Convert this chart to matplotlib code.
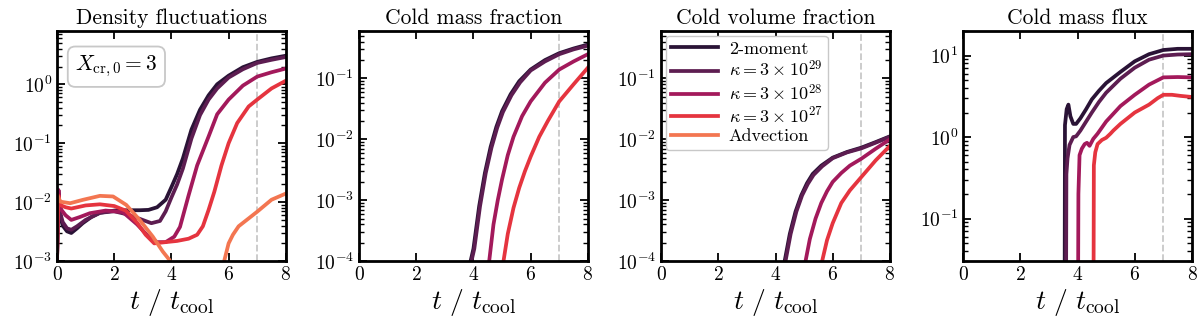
import matplotlib
matplotlib.use("Agg")
import matplotlib.pyplot as plt

plt.rcParams["font.family"] = "serif"
plt.rcParams["font.serif"] = ["cmr10", "DejaVu Serif"]
plt.rcParams["mathtext.fontset"] = "cm"
plt.rcParams["axes.formatter.use_mathtext"] = True
plt.rcParams["xtick.direction"] = "in"
plt.rcParams["ytick.direction"] = "in"
plt.rcParams["xtick.top"] = True
plt.rcParams["ytick.right"] = True

labels = ["2-moment", r"$\kappa = 3\times10^{29}$", r"$\kappa = 3\times10^{28}$",
          r"$\kappa = 3\times10^{27}$", "Advection"]
colors = ["#2a1336", "#5d1d51", "#a3195b", "#e5343f", "#f37651"]
titles = ["Density fluctuations", "Cold mass fraction", "Cold volume fraction", "Cold mass flux"]

# --- Density fluctuations (None = gap where the curve leaves the axes) ---
dens_t = [
    [0.0, 0.05, 0.1, 0.2, 0.35, 0.5, 0.7, 0.9, 1.2, 1.5, 2.0, 2.5, 2.9, 3.2, 3.5, 3.8, 4.0, 4.2, 4.4,
     4.7, 5.0, 5.3, 5.6, 6.0, 6.5, 7.0, 7.5, 8.0],
    [0.0, 0.05, 0.1, 0.2, 0.35, 0.5, 0.7, 1.0, 1.5, 2.0, 2.4, 2.9, 3.3, 3.6, 3.8, 4.0, 4.2, 4.4,
     4.7, 5.0, 5.3, 5.6, 6.0, 6.5, 7.0, 7.5, 8.0],
    [0.0, 0.05, 0.1, 0.3, 0.5, 0.8, 1.15, 1.7, 2.3, 2.8, 3.2, 3.5, 3.8, 4.1, 4.3, 4.6, 4.9, 5.3,
     5.6, 6.0, 6.5, 7.0, 7.5, 8.0],
    [0.0, 0.05, 0.1, 0.3, 0.5, 1.0, 1.5, 2.0, 2.4, 2.8, 3.1, 3.4, 3.8, 4.2, 4.6, 4.9, 5.1, 5.3, 5.5,
     5.75, 6.0, 6.3, 6.7, 7.0, 7.5, 8.0],
    [0.05, 0.12, 0.46, 0.92, 1.5, 1.96, 2.42, 2.89, 3.35, 3.7, 3.93, 4.0, None,
     5.82, 6.0, 6.15, 6.35, 6.7, 7.0, 7.5, 8.0],
]
dens_v = [
    [1e-3, 1.4e-2, 6e-3, 4e-3, 3.2e-3, 3.0e-3, 3.6e-3, 4.4e-3, 5.6e-3, 6.6e-3, 7.2e-3, 7.3e-3,
     7.3e-3, 7.4e-3, 8.2e-3, 1.1e-2, 1.8e-2, 3.0e-2, 5.5e-2, 0.17, 0.37, 0.65, 1.0, 1.4, 1.95,
     2.4, 2.75, 3.05],
    [1e-3, 1.6e-2, 7e-3, 4.6e-3, 3.6e-3, 3.4e-3, 3.9e-3, 5.0e-3, 6.6e-3, 7.0e-3, 6.3e-3, 5.2e-3,
     4.4e-3, 4.8e-3, 7e-3, 1.2e-2, 2.0e-2, 3.7e-2, 0.12, 0.3, 0.55, 0.85, 1.3, 1.8, 2.3, 2.6, 2.9],
    [1e-3, 1.6e-2, 8e-3, 6e-3, 5e-3, 5.6e-3, 6.5e-3, 7.2e-3, 6.8e-3, 4.2e-3, 2.6e-3, 2.1e-3,
     2.1e-3, 2.6e-3, 3.8e-3, 1.3e-2, 4.2e-2, 0.13, 0.31, 0.55, 0.95, 1.35, 1.6, 1.85],
    [1e-3, 1.3e-2, 9e-3, 8.2e-3, 7.8e-3, 8.8e-3, 9.2e-3, 8.6e-3, 7.2e-3, 4.5e-3, 2.8e-3, 2.0e-3,
     2.1e-3, 2.2e-3, 2.4e-3, 2.8e-3, 3.9e-3, 7.4e-3, 1.5e-2, 4.2e-2, 0.1, 0.22, 0.42, 0.55,
     0.85, 1.15],
    [1.2e-2, 1.02e-2, 9.6e-3, 1.1e-2, 1.28e-2, 1.25e-2, 9e-3, 5e-3, 2.6e-3, 1.45e-3, 1.05e-3,
     9e-4, None, 9e-4, 2e-3, 2.8e-3, 3.9e-3, 5.3e-3, 6.9e-3, 1.1e-2, 1.4e-2],
]

# --- Cold mass fraction ---
mfrac_t = [
    [3.9, 4.0, 4.2, 4.4, 4.6, 4.8, 5.0, 5.3, 5.6, 6.0, 6.5, 7.0, 7.5, 8.0],
    [3.93, 4.03, 4.23, 4.43, 4.63, 4.83, 5.03, 5.33, 5.63, 6.0, 6.5, 7.0, 7.5, 8.0],
    [4.55, 4.7, 4.85, 5.0, 5.2, 5.4, 5.7, 6.0, 6.5, 7.0, 7.5, 8.0],
    [5.05, 5.2, 5.4, 5.6, 5.8, 6.0, 6.3, 6.6, 7.0, 7.5, 8.0],
]
mfrac_v = [
    [1e-4, 1.6e-4, 8e-4, 2.8e-3, 7.5e-3, 1.6e-2, 2.9e-2, 5.5e-2, 9e-2, 0.14, 0.2, 0.26, 0.31, 0.36],
    [1e-4, 1.6e-4, 8e-4, 2.8e-3, 7.3e-3, 1.55e-2, 2.8e-2, 5.3e-2, 8.6e-2, 0.135, 0.19, 0.25, 0.3, 0.345],
    [1e-4, 4e-4, 1e-3, 2.2e-3, 5.5e-3, 1.1e-2, 2.4e-2, 4.2e-2, 8.5e-2, 0.14, 0.19, 0.25],
    [1e-4, 2.8e-4, 7.5e-4, 1.6e-3, 3e-3, 5.2e-3, 1.1e-2, 2e-2, 4.2e-2, 8e-2, 0.15],
]

# --- Cold volume fraction ---
vfrac_t = [
    [4.32, 4.5, 4.7, 4.9, 5.1, 5.3, 5.6, 6.0, 6.5, 7.0, 7.5, 8.0],
    [4.35, 4.53, 4.73, 4.93, 5.13, 5.33, 5.63, 6.0, 6.5, 7.0, 7.5, 8.0],
    [5.05, 5.2, 5.4, 5.6, 5.8, 6.0, 6.3, 6.6, 7.0, 7.5, 8.0],
    [5.63, 5.8, 6.0, 6.3, 6.6, 7.0, 7.5, 8.0],
]
vfrac_v = [
    [1e-4, 2.8e-4, 6.5e-4, 1.2e-3, 1.9e-3, 2.7e-3, 3.7e-3, 5e-3, 6.2e-3, 7.3e-3, 9e-3, 1.12e-2],
    [1e-4, 2.8e-4, 6.5e-4, 1.2e-3, 1.85e-3, 2.6e-3, 3.6e-3, 4.9e-3, 6.1e-3, 7.1e-3, 8.8e-3, 1.1e-2],
    [1e-4, 2.3e-4, 5e-4, 9e-4, 1.4e-3, 2e-3, 2.8e-3, 3.7e-3, 4.8e-3, 7e-3, 1.0e-2],
    [1e-4, 2.2e-4, 4.2e-4, 9e-4, 1.45e-3, 2.4e-3, 4.5e-3, 7.8e-3],
]

# --- Cold mass flux ---
flux_t = [
    [3.55, 3.56, 3.62, 3.68, 3.75, 3.85, 3.95, 4.1, 4.3, 4.5, 4.75, 5.0, 5.5, 6.0, 6.5, 7.0, 7.5, 8.0],
    [3.6, 3.61, 3.65, 3.72, 3.85, 3.95, 4.1, 4.3, 4.5, 4.75, 5.0, 5.5, 6.0, 6.5, 7.0, 7.5, 8.0],
    [4.02, 4.03, 4.07, 4.15, 4.25, 4.33, 4.42, 4.55, 4.7, 5.0, 5.5, 6.0, 6.5, 7.0, 7.5, 8.0],
    [4.56, 4.57, 4.62, 4.7, 4.85, 5.0, 5.15, 5.25, 5.5, 6.0, 6.5, 6.8, 7.0, 7.3, 7.6, 8.0],
]
flux_v = [
    [0.02, 1.4, 2.2, 2.5, 1.8, 1.45, 1.45, 1.7, 2.2, 2.9, 3.7, 4.6, 6.3, 8.5, 10.4, 11.7, 12.1, 12.1],
    [0.02, 0.35, 0.55, 0.8, 1.0, 1.02, 1.2, 1.55, 2.0, 2.7, 3.5, 5.2, 7.1, 8.9, 10.0, 10.3, 10.4],
    [0.02, 0.2, 0.6, 0.72, 0.82, 0.85, 0.78, 0.95, 1.1, 1.55, 2.4, 3.3, 4.4, 5.4, 5.45, 5.4],
    [0.02, 0.45, 0.65, 0.82, 0.92, 0.98, 1.1, 1.2, 1.45, 2.0, 2.5, 3.0, 3.3, 3.3, 3.2, 3.1],
]

ylims = [(1e-3, 8), (1e-4, 0.6), (1e-4, 0.6), (0.03, 20)]
t_mark = 7.0

fig, axes = plt.subplots(1, 4, figsize=(12, 3.2), dpi=100)
fig.subplots_adjust(left=0.0475, right=0.9933, bottom=0.184, top=0.903, wspace=0.32)

panels = [(dens_t, dens_v), (mfrac_t, mfrac_v), (vfrac_t, vfrac_v), (flux_t, flux_v)]
for ax, (ts, vs), title, ylim in zip(axes, panels, titles, ylims):
    for i in range(len(labels)):
        if i < len(ts):
            tt = [float("nan") if x is None else x for x in ts[i]]
            vv = [float("nan") if x is None else x for x in vs[i]]
            ax.plot(tt, vv, color=colors[i], lw=2.7, label=labels[i])
        else:
            ax.plot([], [], color=colors[i], lw=2.7, label=labels[i])
    ax.axvline(t_mark, color="#c8c8c8", ls="--", lw=1.3, zorder=0)
    ax.set_yscale("log")
    ax.set_xlim(0, 8)
    ax.set_ylim(*ylim)
    ax.set_xticks([0, 2, 4, 6, 8])
    ax.set_title(title, fontsize=15.5, pad=5)
    ax.set_xlabel(r"$t\ /\ t_{\rm cool}$", fontsize=20, labelpad=2)
    ax.tick_params(labelsize=14, width=1.3, length=6, which="major")
    ax.tick_params(width=1.0, length=3.5, which="minor")
    for s in ax.spines.values():
        s.set_linewidth(2)

axes[0].text(0.08, 0.9, r"$X_{\rm cr,0} = 3$", transform=axes[0].transAxes, fontsize=15.5,
             va="top", ha="left",
             bbox=dict(boxstyle="round,pad=0.35", fc="white", ec="#c8c8c8", lw=1.3))
axes[2].legend(loc="upper left", fontsize=13, handlelength=2.6, labelspacing=0.15,
               handletextpad=0.6, borderpad=0.3, framealpha=1, edgecolor="#c8c8c8",
               borderaxespad=0.25)

fig.savefig("out.png")
